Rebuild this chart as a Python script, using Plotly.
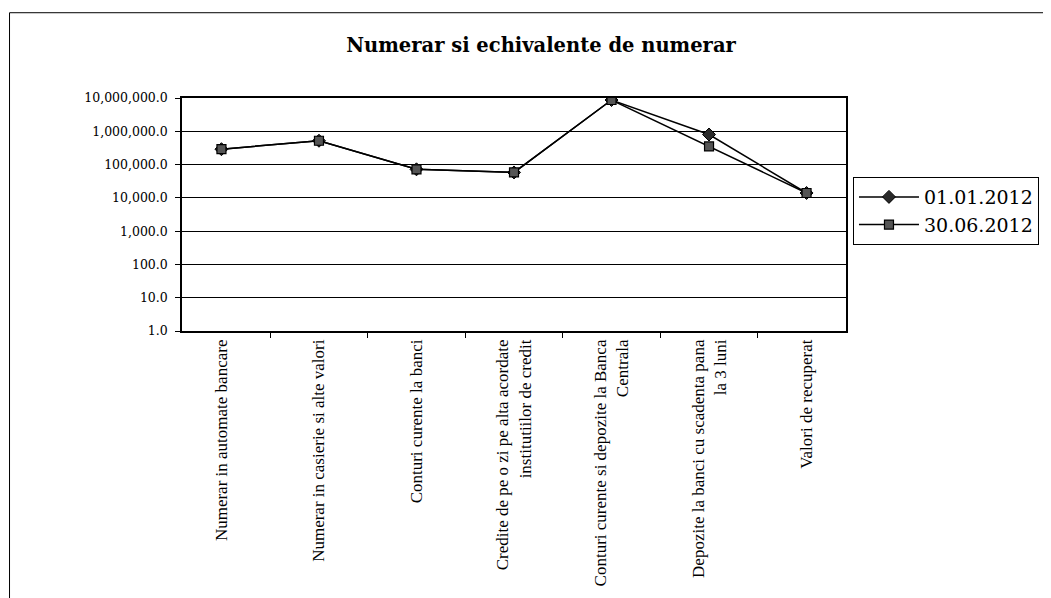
import plotly.graph_objects as go

categories = [
    "Numerar in automate bancare",
    "Numerar in casierie si alte valori",
    "Conturi curente la banci",
    "Credite de pe o zi pe alta acordate<br>institutiilor de credit",
    "Conturi curente si depozite la Banca<br>Centrala",
    "Depozite la banci cu scadenta pana<br>la 3 luni",
    "Valori de recuperat",
]
series_2012_01 = [290000, 520000, 72000, 58000, 8700000, 800000, 14000]
series_2012_06 = [290000, 520000, 72000, 58000, 8700000, 350000, 14000]
series_names = ["01.01.2012", "30.06.2012"]
y_tick_values = [1, 10, 100, 1000, 10000, 100000, 1000000, 10000000]
y_tick_labels = ["1.0", "10.0", "100.0", "1,000.0", "10,000.0", "100,000.0", "1,000,000.0", "10,000,000.0"]

FONT = "Liberation Serif, Times New Roman, serif"
WIDE = "DejaVu Serif, serif"

W, H = 1043, 590
L, T, R, B = 174, 90, 203, 265
PW, PH = W - L - R, H - T - B


def px_x(x):
    return (x - L) / PW


def px_y(y):
    return (H - B - y) / PH


fig = go.Figure()
fig.add_trace(go.Scatter(
    x=categories, y=series_2012_01, name=series_names[0], mode="lines+markers",
    line=dict(color="black", width=1.5),
    marker=dict(symbol="diamond", size=10, color="#2a2a2a", line=dict(color="black", width=1)),
))
fig.add_trace(go.Scatter(
    x=categories, y=series_2012_06, name=series_names[1], mode="lines+markers",
    line=dict(color="black", width=1.5),
    marker=dict(symbol="square", size=9, color="#555555", line=dict(color="black", width=1.2)),
))

fig.update_layout(
    width=W, height=H,
    margin=dict(l=L, r=R, t=T, b=B),
    paper_bgcolor="white", plot_bgcolor="white",
    font=dict(family=FONT, color="black", size=14),
    title=dict(text="<b>Numerar si echivalente de numerar</b>", x=533 / W, xanchor="center",
               y=1 - 37 / H, yanchor="middle", font=dict(family=WIDE, size=19.5, color="black")),
    showlegend=True,
    legend=dict(x=px_x(847), xanchor="left", y=px_y(204), yanchor="middle",
                bordercolor="black", borderwidth=1, bgcolor="white",
                font=dict(family=WIDE, size=19, color="black"),
                itemwidth=60, tracegroupgap=2),
    xaxis=dict(type="category", tickangle=-90, ticks="outside", tickson="boundaries",
               ticklen=5, tickcolor="black", showgrid=False, showline=True,
               linecolor="black", linewidth=1.5, mirror=True,
               tickfont=dict(family=FONT, size=17, color="black")),
    yaxis=dict(type="log", range=[0, 7], tickvals=y_tick_values, ticktext=y_tick_labels,
               ticks="outside", ticklen=5, tickcolor="black", showgrid=True,
               gridcolor="black", gridwidth=1, showline=True, linecolor="black",
               linewidth=1.5, mirror=True, zeroline=False, ticklabelstandoff=5,
               tickfont=dict(family=WIDE, size=12.5, color="black")),
)

# outer chart frame (top and left edges)
fig.add_shape(type="line", xref="paper", yref="paper",
              x0=px_x(1), x1=px_x(W + 5), y0=px_y(4), y1=px_y(4),
              line=dict(color="black", width=1))
fig.add_shape(type="line", xref="paper", yref="paper",
              x0=px_x(1), x1=px_x(1), y0=px_y(4), y1=px_y(H + 5),
              line=dict(color="black", width=1))

fig.write_html("out.html")
